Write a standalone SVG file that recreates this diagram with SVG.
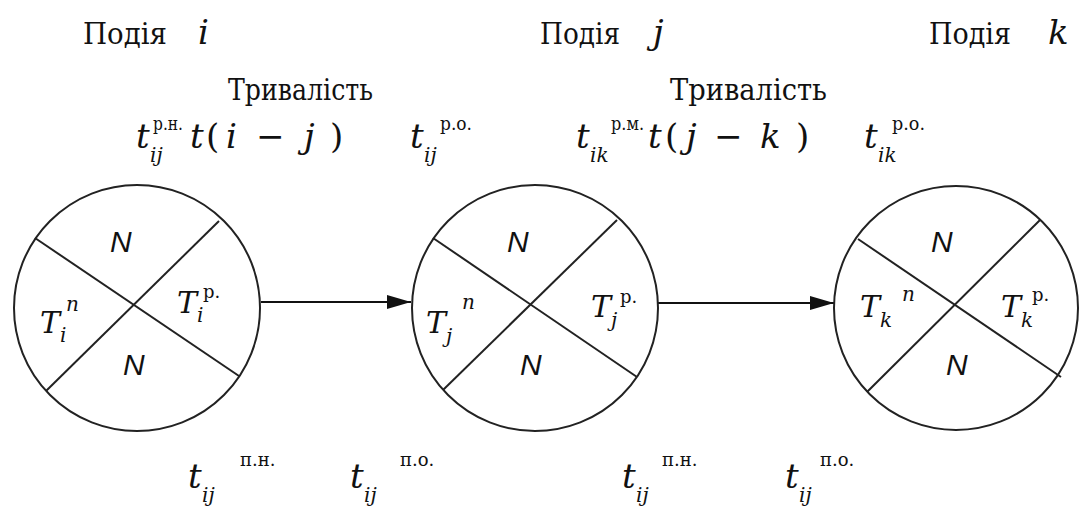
<svg xmlns="http://www.w3.org/2000/svg" width="1080" height="510" viewBox="0 0 1080 510">
<style>
.bg{fill:#fff}
.ring{fill:#fff;stroke:#222;stroke-width:2}
.div{stroke:#222;stroke-width:2}
.edge{stroke:#111;stroke-width:2;fill:none}
text{fill:#111}
.cyr{font-family:"DejaVu Serif","Liberation Serif",serif;font-size:29px}
.mi{font-family:"DejaVu Serif","Liberation Serif",serif;font-style:italic;font-size:34px}
.up{font-style:normal}
.sub{font-family:"DejaVu Serif","Liberation Serif",serif;font-style:italic;font-size:20px}
.sup{font-family:"DejaVu Serif","Liberation Serif",serif;font-size:18px}
.N{font-family:"Liberation Sans","DejaVu Sans",sans-serif;font-style:italic;font-size:30px}
.T{font-family:"DejaVu Serif","Liberation Serif",serif;font-style:italic;font-size:30px}
</style>
<defs>
<marker id="ah" markerWidth="24" markerHeight="14" refX="24" refY="7" orient="auto" markerUnits="userSpaceOnUse">
<path d="M0,0 L24,7 L0,14 Z" fill="#111"/>
</marker>
</defs>
<rect class="bg" x="0" y="0" width="1080" height="510"/>

<g id="labels-top">
<text class="cyr" x="83" y="44" textLength="84" lengthAdjust="spacingAndGlyphs">Подія</text>
<text class="mi" x="198" y="44" font-size="30">i</text>
<text class="cyr" x="540" y="44" textLength="80" lengthAdjust="spacingAndGlyphs">Подія</text>
<text class="mi" x="653" y="44" font-size="30">j</text>
<text class="cyr" x="929" y="44" textLength="82" lengthAdjust="spacingAndGlyphs">Подія</text>
<text class="mi" x="1048" y="44" font-size="30">k</text>

<text class="cyr" x="228" y="100" textLength="145" lengthAdjust="spacingAndGlyphs">Тривалість</text>
<text class="cyr" x="670" y="100" textLength="157" lengthAdjust="spacingAndGlyphs">Тривалість</text>

<text class="mi" x="136" y="148">t</text>
<text class="sub" x="150" y="162">ij</text>
<text class="sup" x="153" y="130" textLength="30" lengthAdjust="spacingAndGlyphs">р.н.</text>
<text class="mi" font-size="36" y="148"><tspan x="190">t</tspan><tspan class="up" x="206">(</tspan><tspan x="226">i</tspan><tspan class="up" x="256">−</tspan><tspan x="304">j</tspan><tspan class="up" x="330">)</tspan></text>

<text class="mi" x="410" y="148">t</text>
<text class="sub" x="424" y="162">ij</text>
<text class="sup" x="440" y="130" textLength="32" lengthAdjust="spacingAndGlyphs">р.о.</text>

<text class="mi" x="576" y="148">t</text>
<text class="sub" x="590" y="162">ik</text>
<text class="sup" x="611" y="130" textLength="33" lengthAdjust="spacingAndGlyphs">р.м.</text>
<text class="mi" font-size="36" y="148"><tspan x="648">t</tspan><tspan class="up" x="665">(</tspan><tspan x="686">j</tspan><tspan class="up" x="714">−</tspan><tspan x="760">k</tspan><tspan class="up" x="796">)</tspan></text>

<text class="mi" x="864" y="148">t</text>
<text class="sub" x="878" y="162">ik</text>
<text class="sup" x="892" y="130" textLength="33" lengthAdjust="spacingAndGlyphs">р.о.</text>
</g>

<g id="connectors">
<line class="edge" x1="261" y1="302" x2="411" y2="302" marker-end="url(#ah)"/>
<line class="edge" x1="658" y1="303" x2="834" y2="303" marker-end="url(#ah)"/>
</g>

<g id="node-i">
<circle class="ring" cx="137" cy="308" r="123"/>
<line class="div" x1="35" y1="238" x2="239" y2="376"/>
<line class="div" x1="219" y1="221" x2="46" y2="391"/>
<text class="N" x="110" y="252">N</text>
<text class="N" x="123" y="375">N</text>
<text class="T" x="40" y="333">T</text>
<text class="sub" x="60" y="342">i</text>
<text class="sub" x="66" y="311" font-size="18">n</text>
<text class="T" x="177" y="313">T</text>
<text class="sub" x="197" y="322">i</text>
<text class="sup" x="203" y="298">р.</text>
</g>

<g id="node-j">
<circle class="ring" cx="535" cy="308" r="123"/>
<line class="div" x1="433" y1="238" x2="637" y2="377"/>
<line class="div" x1="617" y1="220" x2="443" y2="390"/>
<text class="N" x="507" y="252">N</text>
<text class="N" x="520" y="375">N</text>
<text class="T" x="426" y="333">T</text>
<text class="sub" x="446" y="343">j</text>
<text class="sub" x="462" y="309" font-size="18">n</text>
<text class="T" x="591" y="317">T</text>
<text class="sub" x="611" y="327">j</text>
<text class="sup" x="620" y="303">р.</text>
</g>

<g id="node-k">
<circle class="ring" cx="956" cy="308" r="122"/>
<line class="div" x1="858" y1="239" x2="1061" y2="377"/>
<line class="div" x1="1040" y1="220" x2="867" y2="392"/>
<text class="N" x="931" y="252">N</text>
<text class="N" x="946" y="375">N</text>
<text class="T" x="860" y="317">T</text>
<text class="sub" x="880" y="327">k</text>
<text class="sub" x="902" y="301" font-size="18">n</text>
<text class="T" x="1001" y="317">T</text>
<text class="sub" x="1021" y="327">k</text>
<text class="sup" x="1032" y="301">р.</text>
</g>

<g id="labels-bottom">
<text class="mi" x="188" y="488">t</text>
<text class="sub" x="202" y="502">ij</text>
<text class="sup" x="240" y="466">п.н.</text>
<text class="mi" x="350" y="488">t</text>
<text class="sub" x="364" y="502">ij</text>
<text class="sup" x="400" y="466">п.о.</text>
<text class="mi" x="622" y="488">t</text>
<text class="sub" x="636" y="502">ij</text>
<text class="sup" x="662" y="466">п.н.</text>
<text class="mi" x="785" y="488">t</text>
<text class="sub" x="799" y="502">ij</text>
<text class="sup" x="820" y="466">п.о.</text>
</g>
</svg>
